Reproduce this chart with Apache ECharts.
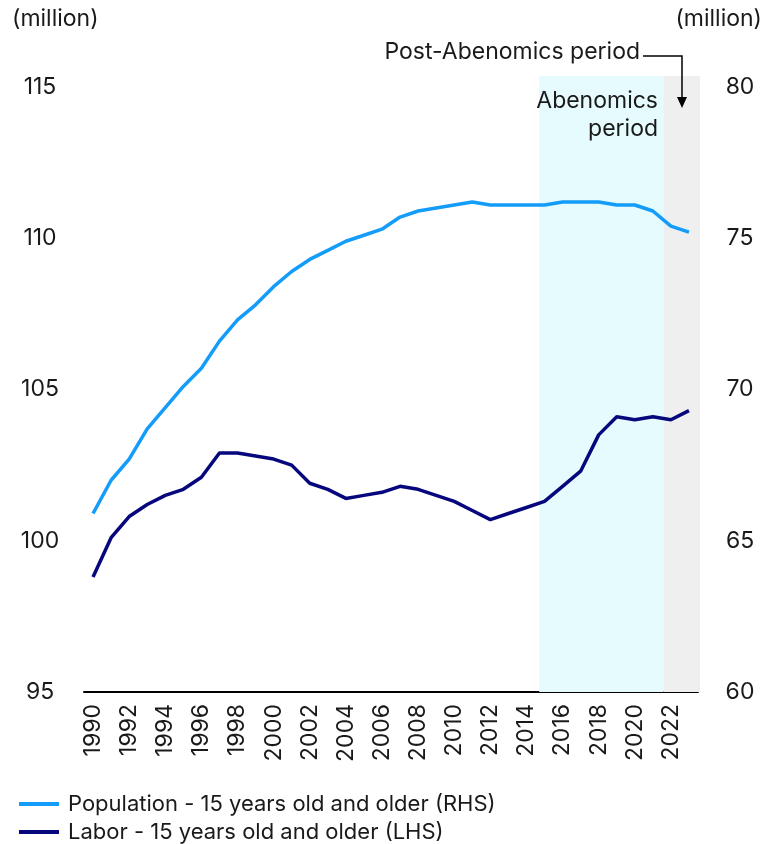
<!DOCTYPE html>
<html>
<head>
<meta charset="utf-8">
<script src="https://cdn.jsdelivr.net/npm/echarts@6/dist/echarts.min.js"></script>
<style>
  html, body { margin: 0; padding: 0; background: #fff; }
  #chart { width: 766px; height: 844px; }
</style>
</head>
<body>
<div id="chart"></div>
<script>
// years on x axis
const years = []
for (let y = 1990; y <= 2023; y++) years.push(String(y))

// Labor - 15 years old and older (LHS, million)
const labor = [
  98.8, 100.1, 100.8, 101.2, 101.5, 101.7, 102.1, 102.9, 102.9, 102.8,
  102.7, 102.5, 101.9, 101.7, 101.4, 101.5, 101.6, 101.8, 101.7, 101.5,
  101.3, 101.0, 100.7, 100.9, 101.1, 101.3, 101.8, 102.3, 103.5, 104.1,
  104.0, 104.1, 104.0, 104.3
]

// Population - 15 years old and older (RHS, million)
const population = [
  65.9, 67.0, 67.7, 68.7, 69.4, 70.1, 70.7, 71.6, 72.3, 72.8,
  73.4, 73.9, 74.3, 74.6, 74.9, 75.1, 75.3, 75.7, 75.9, 76.0,
  76.1, 76.2, 76.1, 76.1, 76.1, 76.1, 76.2, 76.2, 76.2, 76.1,
  76.1, 75.9, 75.4, 75.2
]

// shaded periods (in year units, band edges)
const abenomics = [2014.7, 2021.58]
const postAbenomics = [2021.58, 2023.6]

const FONT = 'Inter'
const TXT = '#1a1a1a'
const POP = 'Population - 15 years old and older (RHS)'
const LAB = 'Labor - 15 years old and older (LHS)'

let chart = echarts.init(document.getElementById('chart'))

// one legend per row
const legendBase = {
  left: 14,
  itemWidth: 40,
  itemHeight: 4,
  icon: 'rect',
  textStyle: { fontFamily: FONT, fontSize: 22, color: TXT, padding: [0, 0, 0, 4] }
}

let option = {
  animation: false,
  textStyle: { fontFamily: FONT },
  grid: [
    { left: 84, right: 68, top: 87, bottom: 152 },
    // backdrop grid for the period bands
    { left: 84, right: 66, top: 76, bottom: 152 }
  ],
  legend: [
    Object.assign({}, legendBase, { top: 788, data: [POP] }),
    Object.assign({}, legendBase, { top: 816, data: [LAB] })
  ],
  xAxis: [
    {
      type: 'category',
      gridIndex: 0,
      data: years,
      boundaryGap: true,
      axisLine: { lineStyle: { color: '#000', width: 2 } },
      axisTick: { show: false },
      axisLabel: {
        interval: 1,
        rotate: 90,
        margin: 12,
        fontSize: 23,
        color: TXT,
        fontFamily: FONT
      },
      splitLine: { show: false }
    },
    {
      type: 'value',
      gridIndex: 1,
      min: 1989.5,
      max: 2023.6,
      show: false
    }
  ],
  yAxis: [
    {
      type: 'value',
      gridIndex: 0,
      min: 95,
      max: 115,
      interval: 5,
      name: '(million)',
      nameLocation: 'end',
      nameGap: 56,
      nameTextStyle: { fontSize: 23, color: TXT, align: 'left', padding: [0, 0, 0, -72] },
      axisLine: { show: false },
      axisTick: { show: false },
      splitLine: { show: false },
      axisLabel: { fontSize: 23, color: TXT, align: 'center', margin: 44 }
    },
    {
      type: 'value',
      gridIndex: 0,
      position: 'right',
      min: 60,
      max: 80,
      interval: 5,
      name: '(million)',
      nameLocation: 'end',
      nameGap: 56,
      nameTextStyle: { fontSize: 23, color: TXT, align: 'right', padding: [0, -64, 0, 0] },
      axisLine: { show: false },
      axisTick: { show: false },
      splitLine: { show: false },
      axisLabel: { fontSize: 23, color: TXT, align: 'center', margin: 42 }
    },
    {
      type: 'value',
      gridIndex: 1,
      min: 0,
      max: 1,
      show: false
    }
  ],
  series: [
    {
      name: 'bands',
      type: 'line',
      xAxisIndex: 1,
      yAxisIndex: 2,
      data: [],
      silent: true,
      z: 0,
      markArea: {
        silent: true,
        data: [
          [{ xAxis: abenomics[0], itemStyle: { color: '#e5fbfd' } }, { xAxis: abenomics[1] }],
          [{ xAxis: postAbenomics[0], itemStyle: { color: '#efefef' } }, { xAxis: postAbenomics[1] }]
        ]
      }
    },
    {
      name: POP,
      type: 'line',
      xAxisIndex: 0,
      yAxisIndex: 1,
      data: population,
      symbol: 'none',
      color: '#139cfa',
      lineStyle: { width: 3.5, color: '#139cfa' },
      z: 3
    },
    {
      name: LAB,
      type: 'line',
      xAxisIndex: 0,
      yAxisIndex: 0,
      data: labor,
      symbol: 'none',
      color: '#07077d',
      lineStyle: { width: 3.5, color: '#07077d' },
      z: 4
    }
  ],
  graphic: [
    {
      type: 'text',
      z: 100,
      right: 766 - 640,
      top: 41,
      style: { text: 'Post-Abenomics period', font: '23px ' + FONT, fill: TXT, textAlign: 'right' }
    },
    {
      type: 'polyline',
      z: 100,
      shape: { points: [[643, 56], [682, 56], [682, 98]] },
      style: { stroke: '#000', lineWidth: 1.5, fill: null }
    },
    {
      type: 'polygon',
      z: 100,
      shape: { points: [[677, 97], [687, 97], [682, 108]] },
      style: { fill: '#000' }
    },
    {
      type: 'text',
      z: 100,
      right: 766 - 658,
      top: 87,
      style: {
        text: 'Abenomics\nperiod',
        font: '23px ' + FONT,
        fill: TXT,
        textAlign: 'right',
        lineHeight: 28
      }
    }
  ]
}

chart.setOption(option)
window.addEventListener('resize', () => {
  chart.resize()
})
</script>
</body>
</html>
